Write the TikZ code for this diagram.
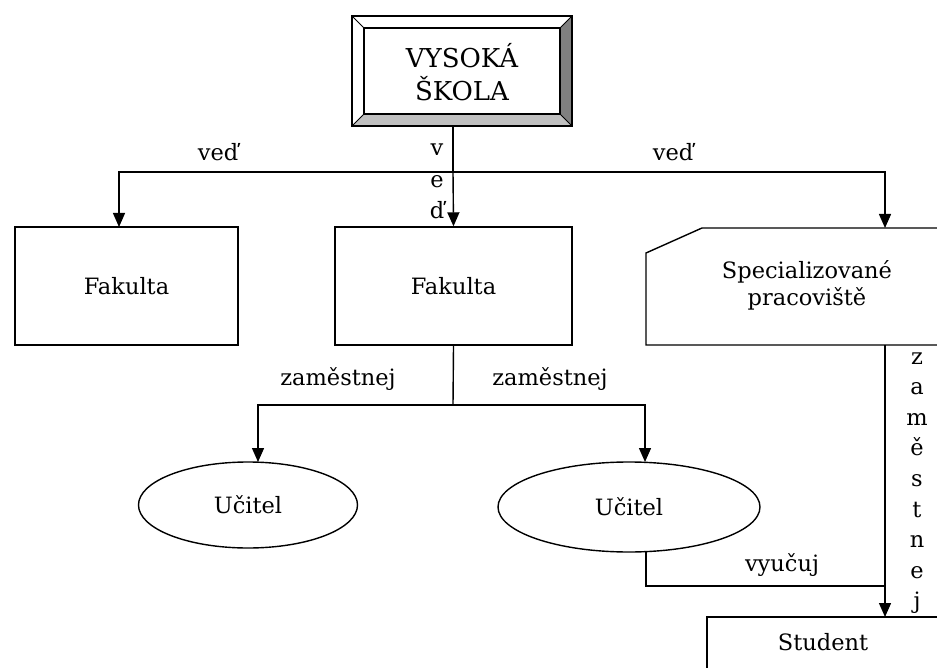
\documentclass[tikz,border=0pt]{standalone}
\usepackage{fontspec}
\setmainfont{DejaVu Serif}
\usetikzlibrary{arrows.meta,shapes.geometric}
\definecolor{bevdark}{HTML}{808080}
\definecolor{bevlight}{HTML}{C0C0C0}
\begin{document}
\begin{tikzpicture}[x=1pt,y=-1pt,
  line width=1.4pt,
  txt/.style={font=\fontsize{22.5}{27}\selectfont, inner sep=0pt},
  box/.style={draw, rectangle, inner sep=0pt, font=\fontsize{22.5}{27}\selectfont},
  oval/.style={draw, ellipse, inner sep=0pt, font=\fontsize{22.5}{27}\selectfont},
  plain/.style={inner sep=0pt, font=\fontsize{22.5}{27}\selectfont, align=center},
  arr/.style={-{Triangle[width=12pt,length=14pt]}},
  link/.style={line width=1.4pt}]
\useasboundingbox (0,0) rectangle (937,668);

% beveled title frame
\fill[white] (352,16) rectangle (572,126);
\fill[bevdark] (560,28) -- (572,16) -- (572,126) -- (560,114) -- cycle;
\fill[bevlight] (364,114) -- (560,114) -- (572,126) -- (352,126) -- cycle;
\draw (352,16) rectangle (572,126);
\draw (364,28) rectangle (560,114);
\draw[line width=0.8pt] (352,16) -- (364,28) (572,16) -- (560,28)
  (352,126) -- (364,114) (572,126) -- (560,114);
\node[plain, font=\fontsize{26}{33}\selectfont] (vs) at (462,72) {VYSOKÁ\\ŠKOLA};
\coordinate (vsb) at (453,126);

% nodes
\node[box, minimum width=223pt, minimum height=118pt] (fak1) at (126.5,286) {Fakulta};
\node[box, minimum width=237pt, minimum height=118pt] (fak2) at (453.5,286) {Fakulta};

% specialised workplace (cut corner, runs past the right edge)
\draw (940,228) -- (702,228) -- (646,253) -- (646,345) -- (940,345);
\node[plain] (spec) at (807,285) {Specializované\\pracoviště};
\coordinate (spect) at (885,228);
\coordinate (specb) at (885,345);

\node[oval, minimum width=219pt, minimum height=86pt] (uc1) at (248,505) {Učitel};
\node[oval, minimum width=262pt, minimum height=90pt] (uc2) at (629,507) {Učitel};

% student box (runs past the right and bottom edges)
\draw (707,670) -- (707,617) -- (940,617);
\node[plain] (stud) at (823,642) {Student};
\coordinate (studt) at (885,617);

% connectors
\coordinate (j1) at (453,172);
\coordinate (j1l) at (119,172);
\coordinate (j1r) at (885,172);
\draw[link] (vsb) -- (j1);
\draw[link,arr] (j1) -- (fak2.north);
\draw[link,arr] (j1) -- (j1l) -- (119,227);
\draw[link,arr] (j1) -- (j1r) -- (spect);

\coordinate (j2) at (453,405);
\coordinate (j2l) at (258,405);
\coordinate (j2r) at (645,405);
\draw[link] (fak2.south) -- (j2);
\draw[link,arr] (j2) -- (j2l) -- (258,462);
\draw[link,arr] (j2) -- (j2r) -- (645,462);

\coordinate (j3) at (885,586);
\draw[link] (646,551) -- (646,586) -- (j3);
\draw[link,arr] (specb) -- (studt);

% labels
\node[txt] (l1) at (218,152) {veď};
\node[txt] (l2) at (673,152) {veď};
\foreach \ch/\yy [count=\i] in {v/150,e/182,ď/210}
  \node[txt] (lv\i) at (437,\yy) {\ch};
\node[txt] (l3) at (338,379) {zaměstnej};
\node[txt] (l4) at (550,379) {zaměstnej};
\node[txt] (l5) at (782,565) {vyučuj};
\foreach \ch [count=\i from 0] in {z,a,m,ě,s,t,n,e,j}
  \node[txt, anchor=base] (lz\i) at (917,{364+30.6*\i}) {\ch};
\end{tikzpicture}
\end{document}
